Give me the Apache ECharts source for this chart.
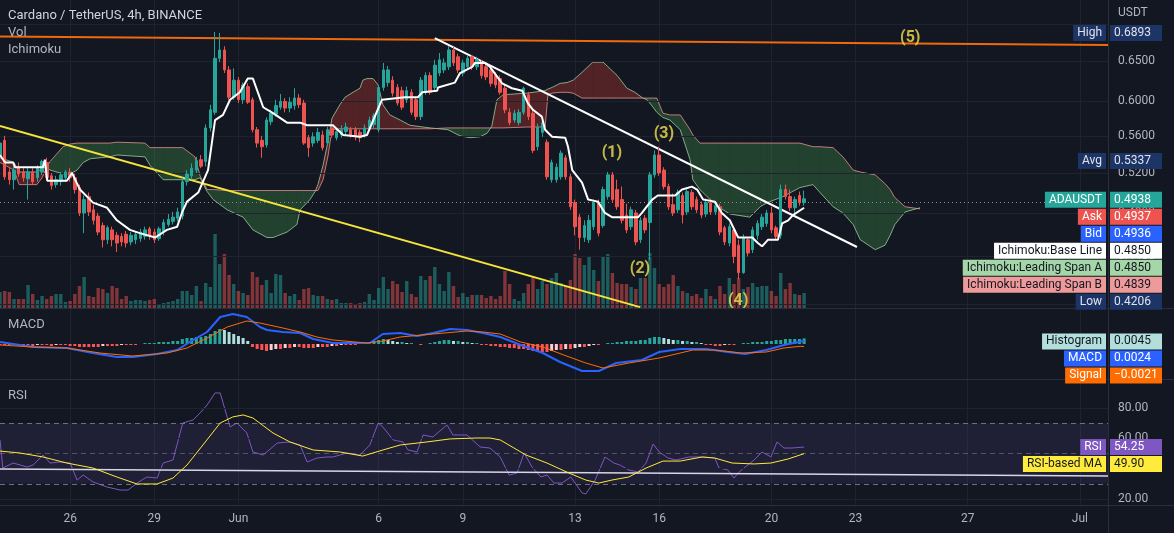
<!DOCTYPE html>
<html><head><meta charset="utf-8">
<script src="https://cdn.jsdelivr.net/npm/echarts@6/dist/echarts.min.js"></script>
<style>html,body{margin:0;padding:0;background:#131722;}#c{width:1174px;height:533px;}</style>
</head><body><div id="c"></div>
<script>
// ---------- DATA ----------
const barStartUTC = Date.UTC(2022, 4, 23, 12);   // first 4h bar
const barCount = 238;                            // bars incl. future space
const tickDays = ['2022-05-26','2022-05-29','2022-06-01','2022-06-06','2022-06-09','2022-06-13','2022-06-16','2022-06-20','2022-06-23','2022-06-27','2022-07-01'];
const tickLabels = ['26','29','Jun','6','9','13','16','20','23','27','Jul'];

// [open, close, low, high]
const ohlc = [
[.537,.552,.534,.558],[.555,.516,.513,.560],[.521,.513,.508,.525],[.513,.523,.503,.527],[.526,.519,.516,.531],[.521,.515,.511,.525],
[.514,.521,.493,.525],[.521,.511,.508,.525],[.515,.525,.511,.528],[.521,.532,.518,.534],[.531,.515,.513,.536],[.517,.507,.503,.520],
[.508,.513,.505,.517],[.511,.518,.507,.521],[.515,.521,.511,.523],[.521,.515,.511,.525],[.515,.503,.499,.519],[.505,.480,.477,.508],
[.480,.493,.461,.497],[.496,.481,.477,.500],[.483,.473,.469,.488],[.477,.462,.459,.480],[.468,.455,.448,.471],[.455,.466,.451,.468],
[.464,.455,.449,.467],[.459,.452,.444,.462],[.458,.453,.449,.461],[.460,.452,.448,.463],[.453,.459,.450,.462],[.455,.460,.451,.463],
[.456,.462,.453,.465],[.458,.464,.455,.467],[.465,.459,.455,.467],[.462,.455,.452,.465],[.456,.465,.454,.467],[.462,.471,.459,.474],
[.469,.474,.467,.479],[.472,.476,.469,.481],[.475,.481,.472,.485],[.477,.511,.474,.515],[.511,.519,.507,.523],[.517,.525,.513,.530],
[.523,.533,.520,.537],[.534,.527,.525,.539],[.532,.569,.527,.573],[.569,.590,.565,.596],[.587,.654,.584,.6893],[.654,.665,.649,.688],
[.665,.639,.635,.670],[.639,.605,.602,.644],[.605,.626,.602,.641],[.626,.602,.598,.630],[.602,.620,.597,.623],[.618,.599,.597,.622],
[.602,.567,.564,.605],[.567,.552,.547,.570],[.555,.548,.536,.560],[.550,.578,.547,.581],[.576,.586,.572,.590],[.585,.595,.582,.602],
[.593,.600,.590,.609],[.600,.592,.587,.604],[.592,.599,.587,.605],[.595,.604,.590,.616],[.604,.596,.592,.609],[.598,.552,.550,.602],
[.558,.547,.537,.561],[.552,.559,.548,.564],[.555,.564,.552,.569],[.561,.547,.544,.566],[.552,.567,.549,.570],[.569,.561,.558,.573],
[.558,.565,.555,.568],[.561,.567,.558,.572],[.565,.570,.561,.575],[.567,.561,.558,.570],[.567,.559,.555,.570],[.564,.558,.553,.567],
[.561,.569,.558,.573],[.569,.578,.566,.582],[.573,.583,.569,.586],[.567,.617,.564,.620],[.617,.639,.613,.648],[.623,.639,.618,.644],
[.626,.610,.606,.631],[.617,.598,.595,.621],[.613,.593,.590,.618],[.602,.613,.598,.618],[.611,.587,.584,.615],[.602,.582,.578,.605],
[.582,.626,.578,.630],[.611,.632,.608,.636],[.632,.611,.608,.636],[.617,.645,.613,.652],[.635,.652,.631,.661],[.639,.648,.635,.654],
[.643,.665,.639,.670],[.665,.648,.644,.669],[.656,.639,.635,.660],[.635,.648,.631,.652],[.643,.654,.639,.658],[.656,.643,.639,.658],
[.643,.652,.639,.656],[.648,.632,.628,.652],[.643,.630,.626,.647],[.639,.622,.618,.643],[.632,.620,.616,.636],[.628,.611,.608,.632],
[.616,.590,.586,.620],[.587,.575,.572,.592],[.578,.586,.575,.590],[.575,.587,.572,.591],[.587,.616,.584,.618],[.608,.582,.578,.611],
[.586,.544,.541,.590],[.548,.570,.544,.574],[.564,.575,.559,.578],[.553,.516,.513,.556],[.513,.531,.510,.534],[.513,.526,.510,.530],
[.516,.541,.513,.544],[.536,.516,.513,.539],[.516,.486,.483,.519],[.490,.467,.459,.493],[.476,.457,.446,.479],[.457,.468,.453,.473],
[.455,.473,.452,.478],[.467,.490,.464,.493],[.490,.461,.458,.493],[.468,.503,.466,.506],[.496,.518,.493,.521],[.518,.493,.490,.521],
[.503,.486,.483,.513],[.493,.473,.470,.506],[.478,.464,.461,.489],[.467,.483,.464,.486],[.480,.453,.450,.483],[.455,.473,.452,.476],
[.475,.464,.461,.478],[.471,.518,.437,.521],[.518,.539,.515,.544],[.539,.520,.517,.548],[.523,.506,.503,.526],[.506,.486,.483,.509],
[.488,.480,.477,.499],[.483,.500,.480,.503],[.497,.478,.470,.500],[.481,.501,.478,.504],[.500,.486,.483,.503],[.493,.483,.480,.496],
[.488,.478,.475,.491],[.479,.490,.476,.494],[.490,.481,.478,.494],[.481,.487,.478,.491],[.486,.462,.459,.489],[.466,.453,.450,.468],
[.452,.467,.449,.470],[.464,.440,.434,.466],[.450,.426,.4206,.455],[.426,.457,.425,.460],[.455,.443,.440,.457],[.446,.464,.443,.467],
[.459,.470,.455,.473],[.467,.476,.464,.479],[.470,.480,.467,.483],[.480,.464,.461,.486],[.466,.458,.455,.468],[.459,.503,.456,.508],
[.503,.496,.493,.508],[.496,.485,.482,.503],[.485,.493,.480,.496],[.497,.490,.487,.501],[.490,.4938,.487,.502]
];
// volume (millions ADA)
const volume = [16,17,16,9,9,9,23,14,8,12,9,12,14,14,6,7,14,22,31,12,11,20,19,15,22,20,9,12,7,8,8,7,8,9,4,5,6,7,9,17,
17,13,22,7,25,21,74,44,54,33,24,17,15,13,36,31,23,28,15,34,33,15,12,14,8,19,20,13,12,12,9,8,9,5,5,5,4,5,6,14,
8,20,31,19,27,24,16,27,14,11,32,28,32,41,24,17,36,22,11,15,11,13,13,13,10,12,9,12,37,24,9,7,15,24,32,19,27,24,30,35,
25,22,28,54,50,43,52,38,27,52,54,35,25,24,24,21,19,30,30,55,40,24,21,24,33,22,17,15,12,14,10,19,12,9,22,14,30,24,30,19,
21,25,21,22,22,17,12,35,19,25,14,13,15];

// Ichimoku base line [bar, price]
const baseLine = [[0,.539],[1.1,.531],[2.8,.531],[3.2,.526],[9.2,.526],[9.6,.534],[10.1,.512],[14.3,.512],[15.4,.520],[17.1,.503],
[19.9,.490],[22.9,.485],[25.0,.473],[27.8,.464],[29.9,.461],[33.2,.457],[35.7,.464],[37.9,.467],[38.9,.480],[40.0,.491],[42.4,.500],
[44.5,.523],[46.0,.578],[47.7,.584],[49.2,.602],[51.3,.611],[53.0,.628],[54.1,.628],[56.3,.593],[58.4,.586],[61.4,.575],[64.2,.575],
[65.7,.572],[71.2,.572],[73.4,.561],[77.0,.559],[78.5,.561],[81.7,.602],[86.6,.605],[89.4,.605],[90.3,.611],[93.5,.613],[93.7,.617],
[97.3,.623],[98.4,.635],[101.0,.643],[101.6,.648],[103.7,.648],[104.8,.643],[107.4,.622],[109.5,.616],[111.7,.613],[112.9,.598],
[114.0,.590],[115.9,.582],[116.6,.567],[118.1,.559],[120.9,.558],[121.5,.548],[122.4,.523],[124.5,.510],[125.8,.493],[127.9,.491],
[129.4,.480],[130.9,.476],[136.5,.476],[137.3,.480],[139.5,.493],[140.7,.497],[144.4,.497],[145.9,.503],[148.0,.506],[149.1,.503],
[150.4,.493],[152.9,.491],[154.4,.480],[156.1,.473],[157.9,.457],[160.9,.457],[162.1,.452],[163.0,.449],[164.3,.455],[166.4,.455],
[167.3,.470],[168.6,.473],[169.6,.478],[172,.485]];

// Ichimoku leading spans (plotted 25 bars ahead)
const cloudX = [0,3.0,4.1,7.9,9.0,10.1,10.7,13.5,15.0,16.5,17.8,19.3,23.5,25.0,31.0,32.1,34.9,39.1,41.7,42.8,44.3,45.6,48.6,52.0,54.1,
57.1,58.4,61.4,63.5,64.2,66.3,67.4,68.0,69.1,70.2,71.0,72.7,73.8,75.5,77.0,77.6,78.5,79.8,80.9,81.9,83.4,85.6,87.7,92.0,95.8,98.4,
100.5,102.7,104.2,105.2,106.3,107.6,112.7,116.6,117.2,118.1,119.8,121.3,122.6,124.5,126.8,129.0,132.0,134.1,135.8,137.5,138.4,139.7,
140.5,141.8,143.3,145.5,147.6,148.2,149.7,151.9,154.0,156.1,160.4,162.6,164.1,167.5,171.1,173.9,175.4,178.2,180.3,182.5,184.0,187.2,
189.3,190.4,191.4,193.6,196.8];
const spanA = [.536,.531,.521,.521,.525,.526,.523,.519,.519,.523,.531,.535,.537,.539,.537,.528,.513,.513,.513,.515,.501,.493,.483,.476,.464,
.457,.457,.462,.469,.483,.493,.501,.508,.528,.555,.580,.596,.605,.611,.616,.626,.628,.628,.620,.596,.584,.578,.572,.569,.567,.560,
.558,.559,.563,.571,.602,.608,.610,.613,.615,.617,.622,.623,.626,.636,.649,.649,.632,.616,.611,.604,.602,.593,
.587,.581,.578,.567,.534,.513,.503,.493,.485,.479,.476,.486,.490,.496,.505,.508,.500,.486,.480,.469,.455,.446,
.450,.459,.469,.481,.4850];
const spanB = [.531,.523,.508,.508,.515,.527,.532,.548,.551,.552,.552,.552,.552,.553,.552,.547,.547,.547,.537,.517,.503,.503,.502,.502,.502,
.502,.502,.502,.502,.502,.502,.502,.502,.513,.539,.567,.568,.568,.568,.568,.568,.568,.568,.568,.568,.568,.568,.568,.568,.569,.569,
.569,.569,.569,.569,.569,.569,.570,.570,.608,.610,.611,.611,.610,.604,.604,.604,.604,.604,.604,.604,.604,.604,
.604,.586,.584,.584,.567,.561,.552,.552,.552,.552,.552,.552,.552,.552,.552,.548,.548,.547,.537,.523,.521,.518,
.509,.503,.495,.486,.4839];

// MACD [bar, value]
const macdLine = [[0,.0016],[7.1,-.0024],[14.3,-.0032],[19.9,-.0072],[25.0,-.0104],[28.4,-.0104],[33.6,-.0080],[37.9,-.0048],[41.3,.0032],
[44.3,.0096],[47.1,.0216],[49.8,.0240],[52.8,.0216],[55.6,.0136],[57.1,.0112],[60.5,.0096],[64.2,.0088],[67.0,.0040],[71.2,.0008],
[75.5,.0008],[79.1,.0008],[81.9,.0080],[85.6,.0088],[89.2,.0064],[92.6,.0088],[96.3,.0120],[99.9,.0112],[103.3,.0088],[107.0,.0056],
[111.4,-.0008],[116.1,-.0072],[119.8,-.0144],[124.5,-.0216],[128.1,-.0216],[131.8,-.0152],[137.3,-.0128],[141.0,-.0064],[145.5,-.0040],
[151.0,-.0040],[155.7,-.0064],[159.4,-.0080],[163.9,-.0048],[167.7,-.0008],[171.3,.0020],[172,.0024]];
const signalLine = [[0,-.0008],[7.1,-.0024],[14.3,-.0032],[21.4,-.0072],[28.4,-.0096],[35.7,-.0072],[40.0,-.0032],[44.3,.0048],
[48.6,.0136],[52.8,.0184],[55.6,.0168],[60.5,.0128],[64.2,.0096],[67.8,.0056],[71.2,.0032],[78.5,.0008],[81.9,.0024],[85.6,.0056],
[92.6,.0080],[99.9,.0104],[103.3,.0096],[107.0,.0080],[111.4,.0016],[116.1,-.0024],[120.6,-.0088],[125.3,-.0152],[129.0,-.0192],
[134.5,-.0152],[141.0,-.0112],[148.2,-.0048],[152.9,-.0048],[158.5,-.0072],[163.9,-.0064],[167.7,-.0032],[171.3,-.0018],[172,-.0021]];
const histogram = [-.0008,-.0008,-.0008,-.0008,-.0008,-.0008,-.0008,-.0016,-.0008,-.0008,-.0008,-.0016,-.0008,-.0008,-.0008,
-.0016,-.0016,-.0024,-.0024,-.0024,-.0024,-.0024,-.0016,-.0016,-.0016,-.0016,-.0008,-.0008,-.0008,-.0008,0,
.0008,.0008,.0008,.0016,.0016,.0016,.0024,.0024,.004,.0048,.0048,.0056,.0056,.0064,.008,.0104,.012,.0112,
.0096,.008,.0064,.0048,.0024,-.0024,-.004,-.0048,-.0056,-.0048,-.004,-.004,-.0032,-.0032,-.0024,-.0024,-.0032,
-.0032,-.0032,-.0024,-.0024,-.0024,-.0016,-.0016,-.0008,-.0008,-.0008,-.0008,0,.0008,.0016,.0024,.0032,.004,
.0032,.0024,.0016,.0016,.0008,.0008,0,-.0008,0,.0008,.0016,.0024,.0032,.0032,.0024,.0024,.0016,.0016,.0008,.0008,
-.0008,-.0008,-.0016,-.0016,-.0024,-.0024,-.0032,-.0032,-.004,-.004,-.0048,-.0056,-.0056,-.0064,
-.0064,-.0056,-.0048,-.0048,-.004,-.004,-.0032,-.0024,-.0024,-.0016,-.0008,-.0008,
0,.0008,.0008,.0016,.0016,.0024,.0024,.0024,.0032,.0032,.0048,.0056,.0056,.0048,
.004,.0032,.0032,.0024,.0024,.0016,.0016,.0008,-.0008,-.0008,-.0016,-.0016,-.0008,-.0008,-.0008,0,
.0008,.0008,.0016,.0016,.0016,.0024,.0024,.0032,.0032,.004,.004,.004,.004,.0045];

// RSI [bar, value]
const rsiLine = [[0,58.9],[0.6,40.4],[2.8,43.7],[5.8,41.1],[7.1,42.4],[9.2,49.0],[10.7,43.7],[12.8,44.4],[15.0,43.7],[16.5,32.5],
[17.8,35.8],[19.9,31.2],[22.9,27.9],[25.7,25.9],[27.4,25.9],[29.3,30.5],[31.4,34.5],[33.6,33.8],[34.9,43.7],[37.0,45.7],[39.1,70.1],
[41.3,72.1],[42.8,76.7],[44.3,82.0],[46.0,89.9],[47.1,89.9],[49.2,67.5],[50.7,70.1],[52.8,63.5],[54.1,51.0],[56.3,49.0],[59.3,56.9],
[62.0,57.6],[64.2,55.6],[65.7,44.4],[67.8,47.0],[69.9,47.7],[71.2,47.7],[74.2,50.3],[77.0,49.0],[79.1,55.6],[80.9,70.1],[81.9,67.5],
[84.1,58.9],[86.2,57.6],[87.3,52.3],[89.2,51.0],[90.5,62.2],[92.6,60.9],[95.6,68.8],[96.9,62.2],[99.9,62.2],[102.7,54.3],[104.8,53.6],
[107.0,47.7],[108.9,35.8],[110.6,37.1],[112.1,50.3],[113.8,41.1],[115.7,34.5],[117.0,35.8],[118.5,30.5],[120.2,30.5],[122.1,34.5],
[124.5,24.0],[125.3,23.3],[127.3,32.5],[129.4,47.7],[131.3,43.7],[132.6,42.4],[134.5,39.1],[136.5,37.8],[138.2,43.7],[139.7,56.3],
[141.0,51.0],[142.9,47.0],[144.6,45.7],[147.4,47.7],[150.2,47.7],[152.9,47.0],[153.8,40.4],[155.7,39.1],[157.0,33.8],[158.1,37.8],
[159.4,41.1],[161.3,45.7],[163.0,51.0],[164.9,47.7],[166.2,57.6],[167.7,53.6],[169.4,53.6],[172,54.25]];
const rsiMA = [[0,51.6],[4.3,50.3],[9.2,47.7],[14.3,43.7],[19.9,40.4],[25.0,34.5],[29.3,29.9],[33.6,29.9],[37.0,33.8],[40.0,42.4],
[43.4,55.6],[47.1,70.1],[49.8,74.1],[52.0,75.4],[54.1,73.4],[58.4,63.5],[62.0,57.6],[67.0,52.3],[72.7,51.0],[77.6,48.3],[81.9,52.3],
[85.6,55.6],[91.3,57.6],[96.3,59.6],[102.0,60.2],[104.8,60.2],[107.0,58.9],[112.5,49.0],[117.0,43.7],[121.7,37.1],[125.3,32.5],
[128.1,30.5],[130.9,32.5],[134.5,34.5],[138.2,40.4],[141.8,45.0],[145.5,45.0],[150.2,47.7],[152.9,47.0],[156.6,43.7],[161.3,43.1],
[164.9,43.7],[168.6,46.4],[172,49.9]];

// drawings [bar, price]
const orangeLine = [[0,.6831],[237,.6715]];
const yellowLine = [[0,.5712],[136.9,.3976]];
const whiteLine = [[93.0,.6810],[183.3,.4484]];
const rsiTrend = [[0,39.8],[237,35.2]];
const waveLabels = ['(1)','(2)','(3)','(4)','(5)'];
const wavePoints = [[130.9,.5412],[136.9,.4290],[142.0,.5621],[157.9,.4025],[194.7,.6810]];

const priceTicks = [0.65,0.60,0.56,0.52,0.48,0.44,0.40];
const priceTopGrid = 0.70;          // grid line only, its label is hidden by the High tag
const rsiTicks = [80,60,40,20];
const rsiLevels = [70,50,30];
const lastPrice = 0.4938;

const priceTags = [
  {name:'High', value:0.6893, bg:'#1c3466', fg:'#e0e3eb'},
  {name:'Avg', value:0.5337, bg:'#1c3466', fg:'#e0e3eb'},
  {name:'ADAUSDT', value:0.4938, bg:'#26a69a', fg:'#ffffff'},
  {name:'Ask', value:0.4937, bg:'#ef5350', fg:'#ffffff'},
  {name:'Bid', value:0.4936, bg:'#2962ff', fg:'#ffffff'},
  {name:'Ichimoku:Base Line', value:0.4850, bg:'#ffffff', fg:'#131722'},
  {name:'Ichimoku:Leading Span A', value:0.4850, bg:'#a5d6a7', fg:'#131722'},
  {name:'Ichimoku:Leading Span B', value:0.4839, bg:'#ef9a9a', fg:'#131722'},
  {name:'Low', value:0.4206, bg:'#1c3466', fg:'#e0e3eb'}
];
const macdTags = [
  {name:'Histogram', value:0.0045, bg:'#b2dfdb', fg:'#131722'},
  {name:'MACD', value:0.0024, bg:'#2962ff', fg:'#ffffff'},
  {name:'Signal', value:-0.0021, bg:'#ff6d00', fg:'#ffffff'}
];
const rsiTags = [
  {name:'RSI', value:54.25, bg:'#7e57c2', fg:'#ffffff'},
  {name:'RSI-based MA', value:49.90, bg:'#ffeb3b', fg:'#131722'}
];

// ---------- CHART ----------
const FONT = 'Roboto, "Noto Sans", sans-serif';
const GRID = '#1f2330';
const categories = [];
for (let i = 0; i < barCount; i++) {
  categories.push(new Date(barStartUTC + i * 4 * 3600e3).toISOString().slice(0, 16).replace('T', ' '));
}
const tickSet = new Set(tickDays.map(d => d + ' 00:00'));
const isTick = (idx, val) => tickSet.has(val);
const tickFmt = v => tickLabels[tickDays.indexOf(v.slice(0, 10))] || '';

const UP = '#26a69a', DOWN = '#ef5350';
const CLOUD_G = 'rgba(76,175,80,0.28)', CLOUD_R = 'rgba(244,67,54,0.28)';

function catAxis(gridIndex, withLabels) {
  return {
    type: 'category', gridIndex, data: categories, boundaryGap: false,
    axisLine: {show: false}, axisTick: {show: false},
    axisLabel: withLabels ? {show: true, interval: isTick, formatter: tickFmt, color: '#b2b5be', fontSize: 12, margin: 8, fontFamily: FONT} : {show: false},
    splitLine: {show: true, interval: isTick, lineStyle: {color: GRID, width: 1}}
  };
}
function valAxisX(gridIndex) {
  return {type: 'value', gridIndex, min: 0, max: barCount - 1, show: false};
}

function renderCloud(params, api) {
  const k = params.dataIndex;
  if (k >= cloudX.length - 1) return null;
  const a0 = api.coord([cloudX[k], spanA[k]]), a1 = api.coord([cloudX[k + 1], spanA[k + 1]]);
  const b0 = api.coord([cloudX[k], spanB[k]]), b1 = api.coord([cloudX[k + 1], spanB[k + 1]]);
  const d0 = spanA[k] - spanB[k], d1 = spanA[k + 1] - spanB[k + 1];
  const col = d => d > 0 ? CLOUD_R : CLOUD_G;
  if (d0 * d1 >= 0) {
    return {type: 'polygon', shape: {points: [a0, a1, b1, b0]}, style: {fill: col(d0 !== 0 ? d0 : d1)}};
  }
  const e0 = a0[1] - b0[1], e1 = a1[1] - b1[1];
  const t = e0 / (e0 - e1);
  const c = [a0[0] + t * (a1[0] - a0[0]), a0[1] + t * (a1[1] - a0[1])];
  return {type: 'group', children: [
    {type: 'polygon', shape: {points: [a0, c, b0]}, style: {fill: col(d0)}},
    {type: 'polygon', shape: {points: [c, a1, b1]}, style: {fill: col(d1)}}
  ]};
}

const histData = histogram.map((v, i) => {
  const prev = i > 0 ? histogram[i - 1] : v;
  let c;
  if (v >= 0) c = v >= prev ? '#26a69a' : '#b2dfdb';
  else c = v <= prev ? '#ff5252' : '#ffcdd2';
  return {value: v, itemStyle: {color: c}};
});
const volData = volume.map((v, i) => ({value: v, itemStyle: {color: ohlc[i][1] >= ohlc[i][0] ? 'rgba(38,166,154,0.5)' : 'rgba(239,83,80,0.5)'}}));

const gridLabel = (digits) => ({show: true, position: 'end', distance: 10, color: '#b2b5be', fontSize: 12, fontFamily: FONT, formatter: p => p.value.toFixed(digits)});
const seg = (pts, color, width) => [{coord: pts[0], lineStyle: {color, width, type: 'solid'}}, {coord: pts[1]}];

const chart = echarts.init(document.getElementById('c'), null, {renderer: 'canvas'});
chart.setOption({
  backgroundColor: '#131722',
  animation: false,
  textStyle: {fontFamily: FONT},
  grid: [
    {left: 0, top: 0, width: 1108, height: 308},
    {left: 0, top: 309, width: 1108, height: 70},
    {left: 0, top: 380, width: 1108, height: 125}
  ],
  xAxis: [catAxis(0, false), valAxisX(0), catAxis(1, false), valAxisX(1), catAxis(2, true), valAxisX(2)],
  yAxis: [
    {type: 'log', logBase: 10, gridIndex: 0, min: 0.3969, max: 0.7349, show: false},
    {type: 'value', gridIndex: 0, min: 0, max: 308, show: false},
    {type: 'value', gridIndex: 1, min: -0.028, max: 0.028, show: false},
    {type: 'value', gridIndex: 2, min: 16.04, max: 98.44, show: false}
  ],
  series: [
    {type: 'bar', name: 'Vol', xAxisIndex: 0, yAxisIndex: 1, data: volData, barWidth: 3.4, z: 1, silent: true},
    {type: 'custom', name: 'Cloud', xAxisIndex: 1, yAxisIndex: 0, renderItem: renderCloud,
      data: cloudX.map((x, i) => [x, spanA[i], spanB[i]]), encode: {x: 0, y: [1, 2]}, z: 2, silent: true, clip: true},
    {type: 'line', name: 'Leading Span A', xAxisIndex: 1, yAxisIndex: 0, data: cloudX.map((x, i) => [x, spanA[i]]),
      symbol: 'none', lineStyle: {color: 'rgba(165,214,167,0.75)', width: 1}, z: 3, silent: true},
    {type: 'line', name: 'Leading Span B', xAxisIndex: 1, yAxisIndex: 0, data: cloudX.map((x, i) => [x, spanB[i]]),
      symbol: 'none', lineStyle: {color: 'rgba(239,154,154,0.75)', width: 1}, z: 3, silent: true,
      markLine: {symbol: ['none', 'none'], silent: true, label: gridLabel(4),
        lineStyle: {color: GRID, width: 1, type: 'solid'},
        data: priceTicks.map(v => ({yAxis: v})).concat([{yAxis: priceTopGrid, label: {show: false}}])}},
    {type: 'candlestick', name: 'ADAUSDT', xAxisIndex: 0, yAxisIndex: 0, data: ohlc, barWidth: 3, z: 5,
      itemStyle: {color: UP, color0: DOWN, borderColor: UP, borderColor0: DOWN, borderWidth: 1},
      markLine: {symbol: ['none', 'none'], silent: true, label: {show: false},
        lineStyle: {color: '#8a8e99', width: 1, type: [1, 3]}, data: [{yAxis: lastPrice}]}},
    {type: 'line', name: 'Base Line', xAxisIndex: 1, yAxisIndex: 0, data: baseLine, symbol: 'none',
      lineStyle: {color: '#ffffff', width: 2}, z: 6, silent: true},
    {type: 'scatter', name: 'Waves', xAxisIndex: 1, yAxisIndex: 0, symbolSize: 1, itemStyle: {color: 'rgba(0,0,0,0)'}, z: 8,
      data: wavePoints.map((p, i) => ({value: p, label: {formatter: waveLabels[i]}})),
      label: {show: true, position: 'inside', color: '#f2e14c', fontSize: 16, fontWeight: 'bold', fontFamily: FONT},
      markLine: {symbol: ['none', 'none'], silent: true, label: {show: false},
        data: [seg(orangeLine, '#f0690f', 2), seg(yellowLine, '#f5e43a', 2), seg(whiteLine, '#ffffff', 2)]}},
    // MACD
    {type: 'bar', name: 'Histogram', xAxisIndex: 2, yAxisIndex: 2, data: histData, barWidth: 3, silent: true},
    {type: 'line', name: 'MACD', xAxisIndex: 3, yAxisIndex: 2, data: macdLine, symbol: 'none', lineStyle: {color: '#2962ff', width: 2}, silent: true},
    {type: 'line', name: 'Signal', xAxisIndex: 3, yAxisIndex: 2, data: signalLine, symbol: 'none', lineStyle: {color: '#ff6d00', width: 1}, silent: true},
    // RSI
    {type: 'line', name: 'RSI', xAxisIndex: 5, yAxisIndex: 3, data: rsiLine, symbol: 'none', lineStyle: {color: '#7e57c2', width: 1}, z: 4, silent: true,
      markArea: {silent: true, itemStyle: {color: 'rgba(126,87,194,0.12)'}, data: [[{yAxis: rsiLevels[0]}, {yAxis: rsiLevels[2]}]]},
      markLine: {symbol: ['none', 'none'], silent: true,
        data: rsiTicks.map(v => ({yAxis: v, label: gridLabel(2), lineStyle: {color: GRID, width: 1, type: 'solid'}}))
          .concat(rsiLevels.map(v => ({yAxis: v, label: {show: false}, lineStyle: {color: '#787b86', width: 1, type: [5, 4], opacity: v === 50 ? 0.6 : 0.9}})))}},
    {type: 'line', name: 'RSI-based MA', xAxisIndex: 5, yAxisIndex: 3, data: rsiMA, symbol: 'none', lineStyle: {color: '#ffeb3b', width: 1}, z: 5, silent: true,
      markLine: {symbol: ['none', 'none'], silent: true, label: {show: false},
        data: [seg(rsiTrend, '#d9d6e6', 1.5)]}}
  ]
});

// ---------- overlays: pane texts, separators, price-scale tags ----------
const g = [];
const txt = (text, x, y, size, fill) => g.push({type: 'text', x, y, z: 100, style: {text, fill, font: `${size}px ${FONT}`, verticalAlign: 'middle'}});
txt('Cardano / TetherUS, 4h, BINANCE', 8, 16, 13, '#d1d4dc');
txt('Vol', 8, 33, 13, '#b2b5be');
txt('Ichimoku', 8, 50, 13, '#b2b5be');
txt('MACD', 8, 325, 13, '#b2b5be');
txt('RSI', 8, 396, 13, '#b2b5be');
txt('USDT', 1118, 13, 12, '#b2b5be');
[[0, 308.5, 1174, 308.5], [0, 379.5, 1174, 379.5], [0, 505.5, 1174, 505.5], [1108.5, 0, 1108.5, 533]].forEach(s =>
  g.push({type: 'line', z: 90, shape: {x1: s[0], y1: s[1], x2: s[2], y2: s[3]}, style: {stroke: '#2a2e39', lineWidth: 1}}));

function fmt(v, d) { return (v < 0 ? '\u2212' : '') + Math.abs(v).toFixed(d); }
function addTags(tags, yAxisIndex, digits, shift) {
  let prev = -1e9;
  tags.forEach(t => {
    let y = chart.convertToPixel({yAxisIndex}, t.value) + shift;
    y = Math.max(y, prev + 17);
    prev = y;
    const common = {fontFamily: FONT, fontSize: 12, lineHeight: 13, verticalAlign: 'middle', padding: [2, 4, 1, 4]};
    g.push({type: 'text', x: 1106, y, z: 110, style: Object.assign({text: t.name, fill: t.fg, backgroundColor: t.bg, align: 'right'}, common)});
    g.push({type: 'text', x: 1110, y, z: 110, style: Object.assign({text: fmt(t.value, digits), fill: t.fg, backgroundColor: t.bg, align: 'left', width: 44}, common)});
  });
}
addTags(priceTags, 0, 4, 1);
addTags(macdTags, 2, 4, 3);
addTags(rsiTags, 3, 2, 0);
chart.setOption({graphic: g});
</script></body></html>
